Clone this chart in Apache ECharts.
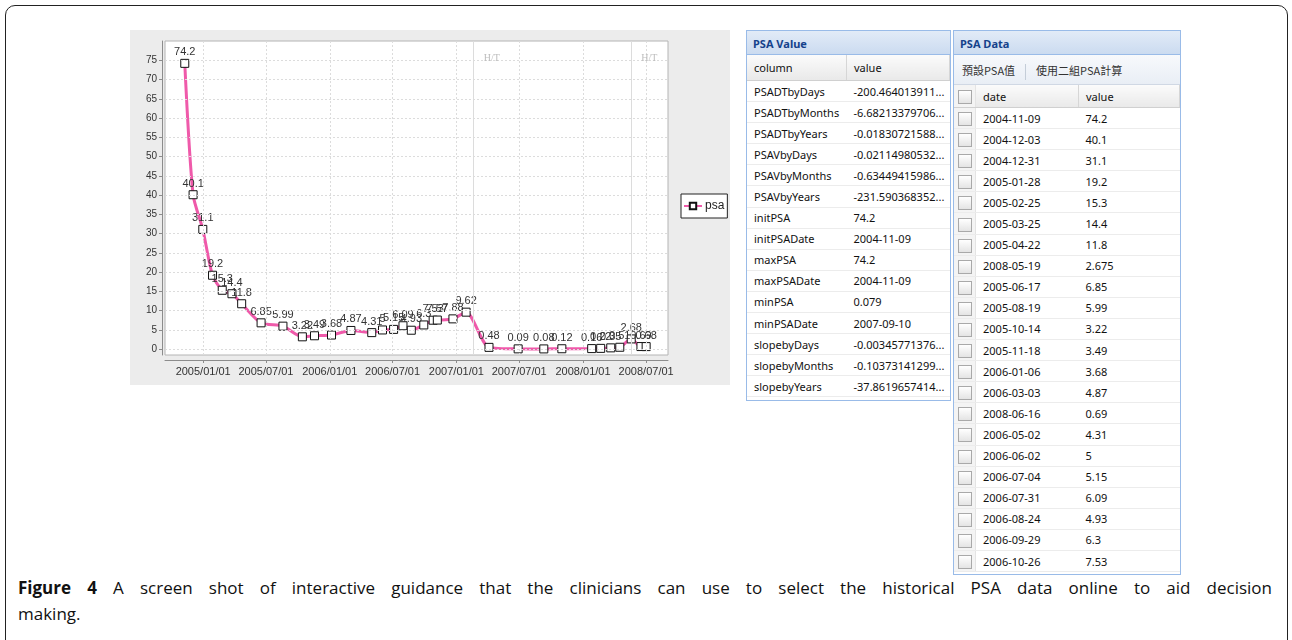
<!DOCTYPE html>
<html>
<head>
<meta charset="utf-8">
<title>PSA</title>
<script src="https://cdn.jsdelivr.net/npm/echarts@6/dist/echarts.min.js"></script>
<style>
    body { margin: 0; width: 1292px; height: 640px; overflow: hidden; position: relative; background: #fff; font-family: "Noto Sans", sans-serif; }
    .frame { position: absolute; left: 5px; top: 5px; width: 1281px; height: 700px; border: 1px solid #222; border-radius: 10px; }
    #psa { position: absolute; left: 130px; top: 30px; width: 600px; height: 355px; background: #ececec; }
    .panel { position: absolute; border: 1px solid #99bbe8; background: #fff; overflow: hidden; }
    .panel .hd { height: 23px; line-height: 25px; background: linear-gradient(#e2ebf7, #cbdbf0); color: #15428b; font-weight: bold; font-size: 11px; padding-left: 6px; border-bottom: 1px solid #99bbe8; }
    .panel table { border-collapse: collapse; font-size: 11px; color: #111; width: 100%; table-layout: fixed; }
    .panel th { font-weight: normal; text-align: left; background: linear-gradient(#fbfbfb, #e9e9e9); border-bottom: 1px solid #d0d0d0; border-right: 1px solid #d6d6d6; padding: 0 0 0 7px; }
    .panel td { border-bottom: 1px solid #ececec; padding: 0 0 0 7px; white-space: nowrap; overflow: hidden; }
    #valuePanel { left: 746px; top: 30px; width: 203px; height: 369px; }
    #valuePanel th { height: 25px; }
    #valuePanel td { height: 20.1px; }
    #dataPanel { left: 953px; top: 30px; width: 226px; height: 543px; }
    .tb { height: 29px; line-height: 31px; background: linear-gradient(#f7f9fc, #e9eef5); border-bottom: 1px solid #d0d8e4; font-family: "Noto Sans CJK TC", sans-serif; font-size: 11px; color: #333; padding-left: 8px; }
    .tb span.sep { display: inline-block; width: 1px; height: 16px; background: #c4cdd8; vertical-align: middle; margin: 0 10px; }
    #dataPanel th { height: 22px; }
    #dataPanel td { height: 20.1px; }
    #dataPanel td.ck, #dataPanel th.ck { padding-left: 4px; background: #f4f4f4; border-right: 1px solid #e4e4e4; }
    .box { display: inline-block; width: 12px; height: 12px; border: 1px solid #a9a9a9; background: linear-gradient(#fff, #e4e4e4); vertical-align: middle; }
    .caption { position: absolute; left: 18px; top: 575px; width: 1254px; font-family: "Open Sans", sans-serif; font-size: 17px; line-height: 26px; color: #111; }
    .caption .l1 { text-align: justify; text-align-last: justify; }
</style>
</head>
<body>
<div class="frame"></div>
<div id="psa"></div>
<div class="panel" id="valuePanel"><div class="hd">PSA Value</div><table id="valueTable"></table></div>
<div class="panel" id="dataPanel">
    <div class="hd">PSA Data</div>
    <div class="tb">預設PSA值<span class="sep"></span>使用二組PSA計算</div>
    <table id="dataTable"></table>
</div>
<div class="caption">
    <div class="l1"><b>Figure 4</b> A screen shot of interactive guidance that the clinicians can use to select the historical PSA data online to aid decision</div>
    <div>making.</div>
</div>
<script>
    // PSA measurements plotted in the chart
    var psaDates = ['2004-11-09', '2004-12-03', '2004-12-31', '2005-01-28', '2005-02-25', '2005-03-25', '2005-04-22',
        '2005-06-17', '2005-08-19', '2005-10-14', '2005-11-18', '2006-01-06', '2006-03-03', '2006-05-02', '2006-06-02',
        '2006-07-04', '2006-07-31', '2006-08-24', '2006-09-29', '2006-10-26', '2006-11-07', '2006-12-22', '2007-01-29',
        '2007-04-05', '2007-06-28', '2007-09-10', '2007-11-01', '2008-01-26', '2008-02-21', '2008-03-21', '2008-04-16',
        '2008-05-19', '2008-06-16', '2008-07-01'];
    var psaValues = [74.2, 40.1, 31.1, 19.2, 15.3, 14.4, 11.8, 6.85, 5.99, 3.22, 3.49, 3.68, 4.87, 4.31, 5,
        5.15, 6.09, 4.93, 6.3, 7.53, 7.57, 7.88, 9.62, 0.48, 0.09, 0.079, 0.12, 0.16, 0.22, 0.35, 0.51,
        2.675, 0.69, 0.68];
    var htDates = ['2007-02-20', '2008-05-19'];
    var xTickDates = ['2005-01-01', '2005-07-01', '2006-01-01', '2006-07-01', '2007-01-01', '2007-07-01', '2008-01-01', '2008-07-01'];
    var yTickValues = [0, 5, 10, 15, 20, 25, 30, 35, 40, 45, 50, 55, 60, 65, 70, 75];

    // PSA Value table
    var statNames = ['PSADTbyDays', 'PSADTbyMonths', 'PSADTbyYears', 'PSAVbyDays', 'PSAVbyMonths', 'PSAVbyYears',
        'initPSA', 'initPSADate', 'maxPSA', 'maxPSADate', 'minPSA', 'minPSADate', 'slopebyDays', 'slopebyMonths', 'slopebyYears'];
    var statValues = ['-200.464013911...', '-6.68213379706...', '-0.01830721588...', '-0.02114980532...', '-0.63449415986...',
        '-231.590368352...', '74.2', '2004-11-09', '74.2', '2004-11-09', '0.079', '2007-09-10', '-0.00345771376...',
        '-0.10373141299...', '-37.8619657414...'];

    // PSA Data table (as listed in the grid)
    var tableDates = ['2004-11-09', '2004-12-03', '2004-12-31', '2005-01-28', '2005-02-25', '2005-03-25', '2005-04-22',
        '2008-05-19', '2005-06-17', '2005-08-19', '2005-10-14', '2005-11-18', '2006-01-06', '2006-03-03', '2008-06-16',
        '2006-05-02', '2006-06-02', '2006-07-04', '2006-07-31', '2006-08-24', '2006-09-29', '2006-10-26'];
    var tableValues = ['74.2', '40.1', '31.1', '19.2', '15.3', '14.4', '11.8', '2.675', '6.85', '5.99', '3.22', '3.49',
        '3.68', '4.87', '0.69', '4.31', '5', '5.15', '6.09', '4.93', '6.3', '7.53'];

    function ts(s) {
        var p = s.split('-');
        return new Date(+p[0], p[1] - 1, +p[2]).getTime();
    }
    function pad(n) { return n < 10 ? '0' + n : '' + n; }

    // tables
    var html = '<tr><th style="width:92px">column</th><th>value</th></tr>';
    for (var i = 0; i < statNames.length; i++) {
        html += '<tr><td>' + statNames[i] + '</td><td>' + statValues[i] + '</td></tr>';
    }
    document.getElementById('valueTable').innerHTML = html;

    html = '<tr><th class="ck" style="width:17px"><span class="box"></span></th><th style="width:95px">date</th><th>value</th></tr>';
    for (var j = 0; j < tableDates.length; j++) {
        html += '<tr><td class="ck"><span class="box"></span></td><td>' + tableDates[j] + '</td><td>' + tableValues[j] + '</td></tr>';
    }
    document.getElementById('dataTable').innerHTML = html;

    // chart (dates as timestamps on a value axis)
    var seriesData = psaDates.map(function (d, k) { return [ts(d), psaValues[k]]; });
    var xTicks = xTickDates.map(ts);
    var gridLines = yTickValues.map(function (v) { return { yAxis: v }; })
        .concat(xTicks.map(function (t) { return { xAxis: t }; }));
    var htLines = htDates.map(function (d) { return { xAxis: ts(d) }; });
    var htLabels = htDates.map(function (d) { return { coord: [ts(d), 75.5] }; });

    var myChart = echarts.init(document.getElementById('psa'));
    myChart.setOption({
        animation: false,
        textStyle: { fontFamily: 'Liberation Sans, Arial, sans-serif' },
        grid: {
            left: 35, right: 62, top: 11, bottom: 30,
            show: true, backgroundColor: '#fff', borderColor: '#b4b4b4', borderWidth: 1
        },
        legend: {
            data: ['psa'],
            left: 551, top: 164,
            orient: 'vertical',
            backgroundColor: '#fff',
            borderColor: '#222', borderWidth: 1,
            padding: [6, 3, 6, 2],
            itemWidth: 18, itemHeight: 8, itemGap: 4,
            textStyle: { fontSize: 12, color: '#222', padding: [0, 0, 0, -2] }
        },
        xAxis: {
            type: 'value',
            min: ts('2004-09-13'), max: ts('2008-09-02'),
            offset: 5,
            axisLine: { onZero: false, lineStyle: { color: '#8c8c8c' } },
            axisTick: { customValues: xTicks, length: 3, lineStyle: { color: '#8c8c8c' } },
            axisLabel: {
                customValues: xTicks,
                fontSize: 11, color: '#333', margin: 6,
                formatter: function (v) {
                    var d = new Date(v);
                    return d.getFullYear() + '/' + pad(d.getMonth() + 1) + '/' + pad(d.getDate());
                }
            },
            splitLine: { show: false }
        },
        yAxis: {
            type: 'value',
            min: -1.5, max: 80,
            offset: 3,
            axisLine: { show: true, lineStyle: { color: '#8c8c8c' } },
            axisTick: { show: true, customValues: yTickValues, length: 3, lineStyle: { color: '#8c8c8c' } },
            axisLabel: { customValues: yTickValues, fontSize: 10, color: '#333', margin: 5 },
            splitLine: { show: false }
        },
        series: [
            {
                name: 'grid',
                type: 'line',
                data: [],
                silent: true,
                z: 1,
                markLine: {
                    silent: true,
                    symbol: ['none', 'none'],
                    label: { show: false },
                    lineStyle: { color: '#dcdcdc', type: [2, 2], width: 1 },
                    data: gridLines
                }
            },
            {
                name: 'ht',
                type: 'line',
                data: [],
                silent: true,
                z: 1,
                markLine: {
                    silent: true,
                    symbol: ['none', 'none'],
                    label: { show: false },
                    lineStyle: { color: '#dcdcdc', type: 'solid', width: 1 },
                    data: htLines
                },
                markPoint: {
                    silent: true,
                    symbol: 'rect',
                    symbolSize: 0,
                    label: {
                        show: true, formatter: 'H/T', offset: [18, 0],
                        color: '#bdbdbd', fontSize: 10, fontFamily: 'Liberation Serif, serif'
                    },
                    data: htLabels
                }
            },
            {
                name: 'psa',
                type: 'line',
                z: 3,
                data: seriesData,
                smooth: 0.25,
                showAllSymbol: true,
                symbol: 'rect',
                symbolSize: 8,
                lineStyle: { color: '#ef5aaa', width: 3 },
                itemStyle: { color: '#fff', borderColor: '#111', borderWidth: 1 },
                label: {
                    show: true,
                    position: 'top',
                    distance: 1,
                    fontSize: 11,
                    color: '#333',
                    formatter: function (p) { return String(Math.round((p.value[1] + 1e-9) * 100) / 100); }
                }
            }
        ]
    });
</script>
</body>
</html>
